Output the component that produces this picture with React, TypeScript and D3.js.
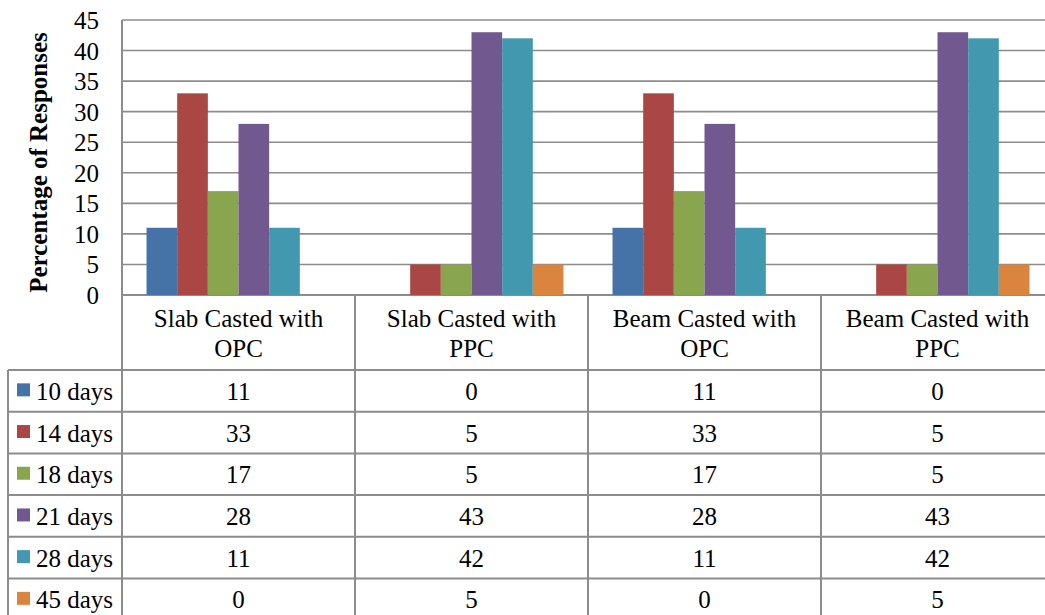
import React from "react";
import * as d3 from "d3";

const categories = ["Slab Casted with OPC", "Slab Casted with PPC", "Beam Casted with OPC", "Beam Casted with PPC"];
const categoryLines = [["Slab Casted with", "OPC"], ["Slab Casted with", "PPC"], ["Beam Casted with", "OPC"], ["Beam Casted with", "PPC"]];
const seriesNames = ["10 days", "14 days", "18 days", "21 days", "28 days", "45 days"];
const seriesColors = ["#4572A7", "#AA4643", "#89A54E", "#71588F", "#4198AF", "#DB843D"];
const days10 = [11, 0, 11, 0];
const days14 = [33, 5, 33, 5];
const days18 = [17, 5, 17, 5];
const days21 = [28, 43, 28, 43];
const days28 = [11, 42, 11, 42];
const days45 = [0, 5, 0, 5];
const seriesValues = [days10, days14, days18, days21, days28, days45];
const yTicks = [0, 5, 10, 15, 20, 25, 30, 35, 40, 45];
const yTitle = "Percentage of Responses";

const W = 1045, H = 615;
const plotLeft = 122, plotRight = 1054, plotTop = 20, plotBottom = 295;
const headerBottom = 370, rowH = 41.7, tableLeft = 8;
const grid = "#8c8c8c";
const font = "'Liberation Serif', 'Times New Roman', serif";
const fs = 25;

export default function App() {
  const x = d3.scaleBand<string>().domain(categories).range([plotLeft, plotRight]).padding(0);
  const xs = d3.scaleBand<string>().domain(seriesNames).range([0, x.bandwidth()]).paddingInner(0).paddingOuter(0.8);
  const y = d3.scaleLinear().domain([0, 45]).range([plotBottom, plotTop]);
  const rowY = (i: number) => headerBottom + i * rowH;

  return (
    <svg width={W} height={H} style={{ position: "absolute", left: 0, top: 0, background: "#fff" }} fontFamily={font}>
      {/* gridlines */}
      {yTicks.map((t) => (
        <line key={"g" + t} x1={plotLeft} x2={plotRight} y1={y(t)} y2={y(t)} stroke={grid} strokeWidth={t === 0 ? 2 : 1.6} />
      ))}
      {/* tick labels */}
      {yTicks.map((t) => (
        <text key={"t" + t} x={99} y={y(t) + 9} textAnchor="end" fontSize={fs} fill="#000">{t}</text>
      ))}
      {/* bars */}
      {seriesNames.map((s, si) =>
        categories.map((c, ci) => {
          const v = seriesValues[si][ci];
          if (v <= 0) return null;
          return (
            <rect key={s + c} x={(x(c) as number) + (xs(s) as number)} y={y(v)} width={xs.bandwidth()} height={y(0) - y(v)} fill={seriesColors[si]} />
          );
        })
      )}
      {/* left axis line */}
      <line x1={plotLeft} x2={plotLeft} y1={plotTop} y2={H} stroke={grid} strokeWidth={2} />
      {/* axis title */}
      <text transform={`translate(46.5, 162.5) rotate(-90)`} textAnchor="middle" fontSize={fs} fontWeight="bold" fill="#000">{yTitle}</text>
      {/* table column separators */}
      {categories.slice(1).map((c) => (
        <line key={"v" + c} x1={x(c) as number} x2={x(c) as number} y1={plotBottom} y2={H} stroke={grid} strokeWidth={2} />
      ))}
      <line x1={tableLeft} x2={tableLeft} y1={headerBottom} y2={H} stroke={grid} strokeWidth={2} />
      {/* table rows */}
      {seriesNames.map((s, si) => (
        <line key={"h" + s} x1={tableLeft} x2={W} y1={rowY(si)} y2={rowY(si)} stroke={grid} strokeWidth={2} />
      ))}
      <line x1={tableLeft} x2={W} y1={rowY(6)} y2={rowY(6)} stroke={grid} strokeWidth={2} />
      {/* headers */}
      {categories.map((c, ci) => {
        const cx = (x(c) as number) + x.bandwidth() / 2;
        return categoryLines[ci].map((ln, li) => (
          <text key={c + li} x={cx} y={327 + li * 30} textAnchor="middle" fontSize={fs} fill="#000">{ln}</text>
        ));
      })}
      {/* legend and values */}
      {seriesNames.map((s, si) => {
        const cy = rowY(si) + rowH / 2;
        return (
          <g key={"r" + s}>
            <rect x={17} y={cy - 7.5} width={13} height={13} fill={seriesColors[si]} />
            <text x={36} y={cy + 9} fontSize={fs} fill="#000">{s}</text>
            {categories.map((c) => null)}
            {seriesValues[si].map((v, ci) => (
              <text key={ci} x={(x(categories[ci]) as number) + x.bandwidth() / 2} y={cy + 9} textAnchor="middle" fontSize={fs} fill="#000">{v}</text>
            ))}
          </g>
        );
      })}
    </svg>
  );
}
